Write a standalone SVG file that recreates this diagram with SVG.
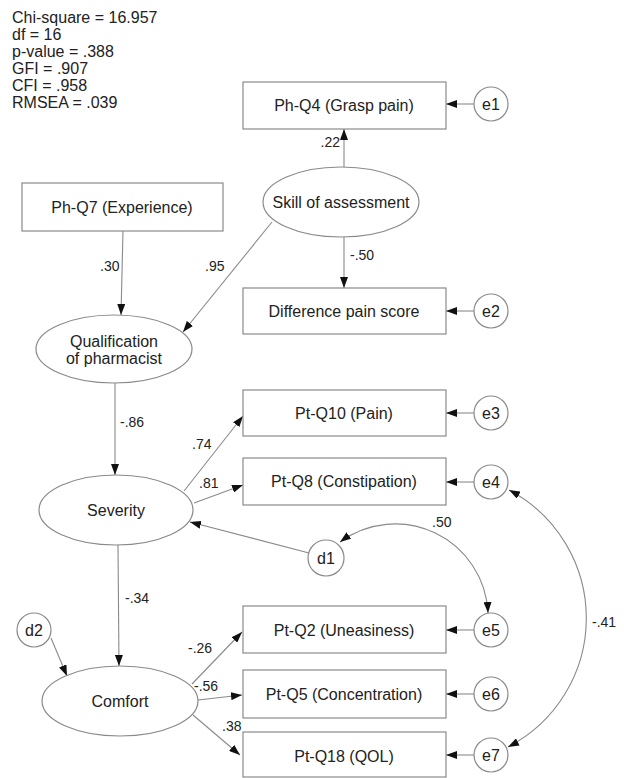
<svg xmlns="http://www.w3.org/2000/svg" width="624" height="778" viewBox="0 0 624 778">
<style>
  .bg{fill:#fff}
  .box{fill:#fff;stroke:#8a8a8a;stroke-width:1.2}
  .ell{fill:#fff;stroke:#8a8a8a;stroke-width:1.2}
  .t{font-family:"Liberation Sans",Arial,sans-serif;font-size:16px;fill:#222;text-anchor:middle}
  .s{font-family:"Liberation Sans",Arial,sans-serif;font-size:16px;fill:#222}
  .l{font-family:"Liberation Sans",Arial,sans-serif;font-size:14px;fill:#222}
  .c{fill:none;stroke:#8a8a8a;stroke-width:1.1}
  .a{marker-end:url(#ah)}
  .b{marker-start:url(#ah);marker-end:url(#ah)}
</style>
<defs>
  <marker id="ah" markerUnits="userSpaceOnUse" markerWidth="11" markerHeight="8" refX="11" refY="4" orient="auto-start-reverse">
    <path d="M0,0 L11,4 L0,8 z" fill="#111"/>
  </marker>
</defs>
<rect class="bg" x="0" y="0" width="624" height="778"/>

<g id="fit-stats">
  <text class="s" x="12" y="23">Chi-square = 16.957</text>
  <text class="s" x="12" y="40">df = 16</text>
  <text class="s" x="12" y="57">p-value = .388</text>
  <text class="s" x="12" y="74">GFI = .907</text>
  <text class="s" x="12" y="91">CFI = .958</text>
  <text class="s" x="12" y="108">RMSEA = .039</text>
</g>

<g id="connectors">
  <path class="c a" d="M344 167 L344 129"/>
  <path class="c a" d="M344 237 L344 288"/>
  <path class="c a" d="M272 222 L183 332"/>
  <path class="c a" d="M123 231 L121 315"/>
  <path class="c a" d="M115 383 L115 475"/>
  <path class="c a" d="M184 491 L243 416"/>
  <path class="c a" d="M194 503 L243 485"/>
  <path class="c a" d="M309 553 L190 522"/>
  <path class="c a" d="M118 545 L119 666"/>
  <path class="c a" d="M51 638 L67 676"/>
  <path class="c a" d="M192 684 L242 632"/>
  <path class="c a" d="M198 700 L242 695"/>
  <path class="c a" d="M193 715 L240 755"/>
  <path class="c a" d="M474 104 L446 104"/>
  <path class="c a" d="M474 311 L446 311"/>
  <path class="c a" d="M474 413 L446 413"/>
  <path class="c a" d="M474 482 L446 482"/>
  <path class="c a" d="M474 630 L446 630"/>
  <path class="c a" d="M474 694 L446 694"/>
  <path class="c a" d="M474 755 L446 755"/>
  <path class="c b" d="M340 542 A93 93 0 0 1 488 613"/>
  <path class="c b" d="M509 490 A145 145 0 0 1 508 747"/>
  <text class="l" x="340" y="147" text-anchor="end">.22</text>
  <text class="l" x="100" y="271">.30</text>
  <text class="l" x="205" y="271">.95</text>
  <text class="l" x="350" y="260">-.50</text>
  <text class="l" x="120" y="427">-.86</text>
  <text class="l" x="192" y="449">.74</text>
  <text class="l" x="199" y="488">.81</text>
  <text class="l" x="432" y="527">.50</text>
  <text class="l" x="592" y="627">-.41</text>
  <text class="l" x="125" y="603">-.34</text>
  <text class="l" x="188" y="653">-.26</text>
  <text class="l" x="194" y="691">-.56</text>
  <text class="l" x="222" y="731">.38</text>
</g>

<g id="ph-q4"><rect class="box" x="243" y="82" width="203" height="47"/><text class="t" x="344" y="111">Ph-Q4 (Grasp pain)</text></g>
<g id="e1"><circle class="ell" cx="491" cy="104" r="17"/><text class="t" x="491" y="110">e1</text></g>
<g id="skill"><ellipse class="ell" cx="341" cy="202" rx="78" ry="35"/><text class="t" x="341" y="208">Skill of assessment</text></g>
<g id="ph-q7"><rect class="box" x="22" y="183" width="201" height="48"/><text class="t" x="122" y="213">Ph-Q7 (Experience)</text></g>
<g id="diff"><rect class="box" x="243" y="288" width="203" height="46"/><text class="t" x="344" y="317">Difference pain score</text></g>
<g id="e2"><circle class="ell" cx="491" cy="311" r="17"/><text class="t" x="491" y="317">e2</text></g>
<g id="qualification"><ellipse class="ell" cx="114" cy="349" rx="78" ry="34"/><text class="t" x="114" y="347">Qualification</text><text class="t" x="114" y="364">of pharmacist</text></g>
<g id="pt-q10"><rect class="box" x="243" y="390" width="203" height="46"/><text class="t" x="344" y="419">Pt-Q10 (Pain)</text></g>
<g id="e3"><circle class="ell" cx="491" cy="413" r="17"/><text class="t" x="491" y="419">e3</text></g>
<g id="severity"><ellipse class="ell" cx="116" cy="510" rx="77" ry="35"/><text class="t" x="116" y="516">Severity</text></g>
<g id="pt-q8"><rect class="box" x="243" y="458" width="203" height="47"/><text class="t" x="344" y="487">Pt-Q8 (Constipation)</text></g>
<g id="e4"><circle class="ell" cx="491" cy="482" r="17"/><text class="t" x="491" y="488">e4</text></g>
<g id="d1"><circle class="ell" cx="326" cy="558" r="18"/><text class="t" x="326" y="564">d1</text></g>
<g id="d2"><circle class="ell" cx="34" cy="630" r="17"/><text class="t" x="34" y="636">d2</text></g>
<g id="comfort"><ellipse class="ell" cx="120" cy="701" rx="78" ry="35"/><text class="t" x="120" y="707">Comfort</text></g>
<g id="pt-q2"><rect class="box" x="243" y="606" width="203" height="47"/><text class="t" x="344" y="636">Pt-Q2 (Uneasiness)</text></g>
<g id="e5"><circle class="ell" cx="491" cy="630" r="17"/><text class="t" x="491" y="636">e5</text></g>
<g id="pt-q5"><rect class="box" x="243" y="670" width="203" height="48"/><text class="t" x="344" y="700">Pt-Q5 (Concentration)</text></g>
<g id="e6"><circle class="ell" cx="491" cy="694" r="17"/><text class="t" x="491" y="700">e6</text></g>
<g id="pt-q18"><rect class="box" x="243" y="732" width="203" height="45"/><text class="t" x="344" y="762">Pt-Q18 (QOL)</text></g>
<g id="e7"><circle class="ell" cx="491" cy="755" r="17"/><text class="t" x="491" y="761">e7</text></g>
</svg>
